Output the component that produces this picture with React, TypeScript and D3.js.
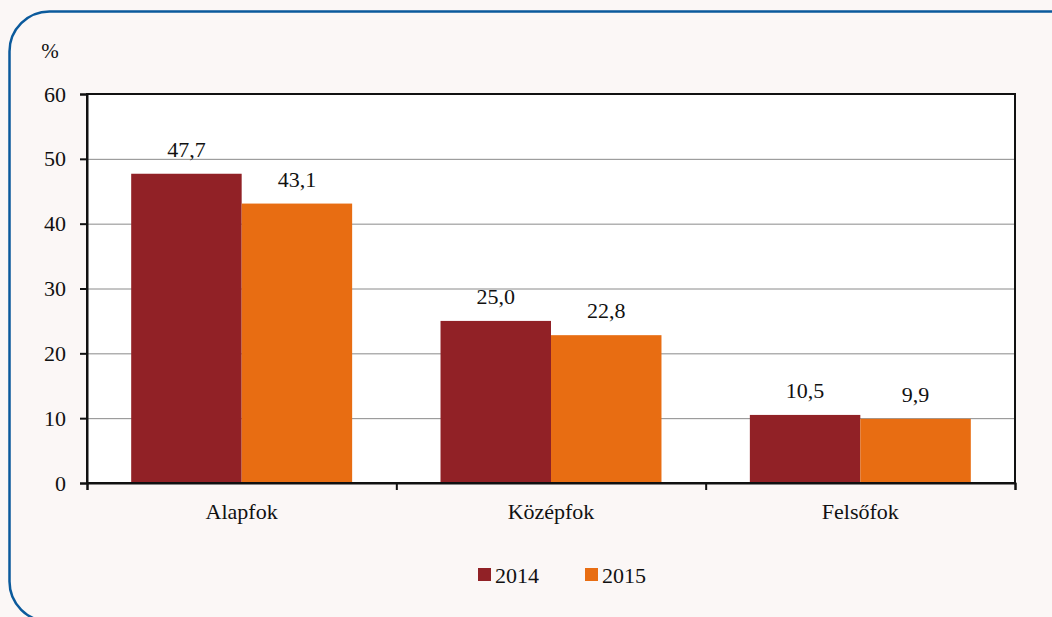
import { useRef, useEffect } from "react";
import * as d3 from "d3";

const categories = ["Alapfok", "Középfok", "Felsőfok"];
const years = ["2014", "2015"];
const values2014 = [47.7, 25.0, 10.5];
const values2015 = [43.1, 22.8, 9.9];
const yTicks = [0, 10, 20, 30, 40, 50, 60];

const colors = ["#912126", "#e86d12"];
const font = "Liberation Serif";

export default function App() {
  const svgRef = useRef<SVGSVGElement>(null);

  useEffect(() => {
    const svg = d3.select(svgRef.current);
    svg.selectAll("*").remove();

    const left = 87, right = 1015, top = 94, bottom = 483;

    // background + rounded frame
    svg.append("rect").attr("width", 1052).attr("height", 617).attr("fill", "#fbf7f6");
    svg
      .append("rect")
      .attr("x", 9.5)
      .attr("y", 11.5)
      .attr("width", 1080)
      .attr("height", 610)
      .attr("rx", 40)
      .attr("fill", "none")
      .attr("stroke", "#0b5a9c")
      .attr("stroke-width", 2.5);

    svg
      .append("rect")
      .attr("x", left)
      .attr("y", top)
      .attr("width", right - left)
      .attr("height", bottom - top)
      .attr("fill", "#ffffff");

    const x0 = d3.scaleBand().domain(categories).range([left, right]);
    const x1 = d3.scaleBand().domain(years).range([0, x0.bandwidth()]).paddingOuter(0.4);
    const y = d3.scaleLinear().domain([0, 60]).range([bottom, top]);

    // gridlines
    svg
      .append("g")
      .selectAll("line")
      .data(yTicks.filter((t) => t > 0 && t < 60))
      .join("line")
      .attr("x1", left)
      .attr("x2", right)
      .attr("y1", (d) => y(d) + 0.5)
      .attr("y2", (d) => y(d) + 0.5)
      .attr("stroke", "#8a8a8a")
      .attr("stroke-width", 1);

    const series = [values2014, values2015];
    series.forEach((vals, si) => {
      const g = svg.append("g");
      g.selectAll("rect")
        .data(vals)
        .join("rect")
        .attr("x", (_, i) => x0(categories[i])! + x1(years[si])!)
        .attr("y", (d) => y(d))
        .attr("width", x1.bandwidth())
        .attr("height", (d) => bottom - y(d))
        .attr("fill", colors[si]);
      g.selectAll("text")
        .data(vals)
        .join("text")
        .attr("x", (_, i) => x0(categories[i])! + x1(years[si])! + x1.bandwidth() / 2)
        .attr("y", (d) => y(d) - 17)
        .attr("text-anchor", "middle")
        .style("font-family", font)
        .style("font-size", "22px")
        .attr("fill", "#111")
        .text((d) => d.toFixed(1).replace(".", ","));
    });

    // plot frame
    svg
      .append("rect")
      .attr("x", left)
      .attr("y", top)
      .attr("width", right - left)
      .attr("height", bottom - top)
      .attr("fill", "none")
      .attr("stroke", "#111")
      .attr("stroke-width", 2);

    // y axis
    const yAxis = d3.axisLeft(y).tickValues(yTicks).tickSize(7).tickPadding(14);
    const ya = svg.append("g").attr("transform", `translate(${left},0)`).call(yAxis);
    ya.select(".domain").attr("stroke", "#111").attr("stroke-width", 2);
    ya.selectAll(".tick line").attr("stroke", "#111").attr("stroke-width", 2);
    ya.selectAll(".tick text")
      .style("font-family", font)
      .style("font-size", "22px")
      .attr("fill", "#111");

    // x axis: ticks at category boundaries
    const xb = d3.scaleLinear().domain([0, 3]).range([left, right]);
    const xAxis = d3.axisBottom(xb).tickValues([0, 1, 2, 3]).tickSize(7).tickFormat(() => "");
    const xa = svg.append("g").attr("transform", `translate(0,${bottom})`).call(xAxis);
    xa.select(".domain").attr("stroke", "#111").attr("stroke-width", 2);
    xa.selectAll(".tick line").attr("stroke", "#111").attr("stroke-width", 2);

    svg
      .append("g")
      .selectAll("text")
      .data(categories)
      .join("text")
      .attr("x", (d) => x0(d)! + x0.bandwidth() / 2)
      .attr("y", bottom + 36)
      .attr("text-anchor", "middle")
      .style("font-family", font)
      .style("font-size", "22px")
      .attr("fill", "#111")
      .text((d) => d);

    svg
      .append("text")
      .attr("x", 50)
      .attr("y", 58)
      .attr("text-anchor", "middle")
      .style("font-family", font)
      .style("font-size", "21px")
      .attr("fill", "#111")
      .text("%");

    // legend
    const legendX = [478, 585];
    years.forEach((yr, i) => {
      svg
        .append("rect")
        .attr("x", legendX[i])
        .attr("y", 568)
        .attr("width", 13)
        .attr("height", 13)
        .attr("fill", colors[i]);
      svg
        .append("text")
        .attr("x", legendX[i] + 17)
        .attr("y", 583)
        .style("font-family", font)
        .style("font-size", "22px")
        .attr("fill", "#111")
        .text(yr);
    });
  }, []);

  return (
    <svg
      ref={svgRef}
      width={1052}
      height={617}
      style={{ position: "absolute", left: 0, top: 0, display: "block" }}
    />
  );
}
